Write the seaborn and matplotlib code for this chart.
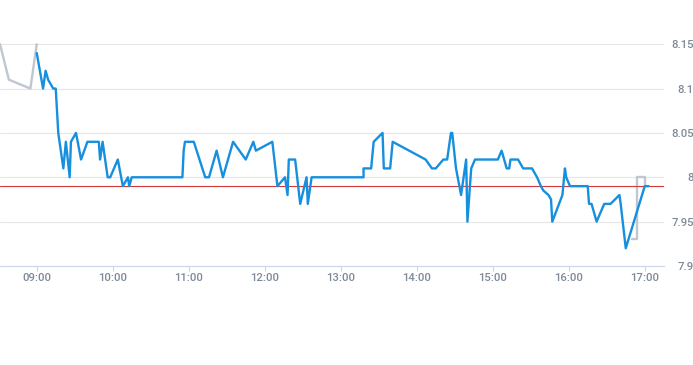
import matplotlib
matplotlib.use("Agg")
import matplotlib.pyplot as plt
import seaborn as sns
import pandas as pd

# ---- data ----
blue_times = ["09:00", "09:05", "09:07", "09:09", "09:13", "09:15", "09:17", "09:21", "09:23", "09:26",
              "09:27", "09:31", "09:35", "09:40", "09:49", "09:50", "09:52", "09:56", "09:58", "10:04",
              "10:08", "10:12", "10:13", "10:15", "10:55", "10:56", "10:57", "11:04", "11:13", "11:16",
              "11:22", "11:27", "11:35", "11:45", "11:51", "11:53", "12:06", "12:10", "12:16", "12:18",
              "12:19", "12:24", "12:28", "12:33", "12:34", "12:37", "13:18", "13:18", "13:24", "13:26",
              "13:33", "13:34", "13:39", "13:41", "14:07", "14:12", "14:15", "14:21", "14:24", "14:27",
              "14:28", "14:31", "14:35", "14:39", "14:40", "14:43", "14:46", "15:04", "15:07", "15:09",
              "15:11", "15:13", "15:14", "15:20", "15:24", "15:31", "15:35", "15:38", "15:40", "15:44",
              "15:46", "15:47", "15:55", "15:57", "15:58", "16:01", "16:15", "16:16", "16:18", "16:22",
              "16:28", "16:33", "16:40", "16:41", "16:45", "17:00", "17:03"]
blue_prices = [8.14, 8.10, 8.12, 8.11, 8.10, 8.10, 8.05, 8.01, 8.04, 8.00,
               8.04, 8.05, 8.02, 8.04, 8.04, 8.02, 8.04, 8.00, 8.00, 8.02,
               7.99, 8.00, 7.99, 8.00, 8.00, 8.03, 8.04, 8.04, 8.00, 8.00,
               8.03, 8.00, 8.04, 8.02, 8.04, 8.03, 8.04, 7.99, 8.00, 7.98,
               8.02, 8.02, 7.97, 8.00, 7.97, 8.00, 8.00, 8.01, 8.01, 8.04,
               8.05, 8.01, 8.01, 8.04, 8.02, 8.01, 8.01, 8.02, 8.02, 8.05,
               8.05, 8.01, 7.98, 8.02, 7.95, 8.01, 8.02, 8.02, 8.03, 8.02,
               8.01, 8.01, 8.02, 8.02, 8.01, 8.01, 8.00, 7.99, 7.985, 7.98,
               7.975, 7.95, 7.98, 8.01, 8.00, 7.99, 7.99, 7.97, 7.97, 7.95,
               7.97, 7.97, 7.98, 7.97, 7.92, 7.99, 7.99]

pre_times = ["08:31", "08:38", "08:55", "09:00"]
pre_prices = [8.15, 8.11, 8.10, 8.15]

post_times = ["16:50", "16:54", "16:54", "17:00", "17:00"]
post_prices = [7.93, 7.93, 8.00, 8.00, 7.99]

ref_price = 7.99

x_tick_labels = ["09:00", "10:00", "11:00", "12:00", "13:00", "14:00", "15:00", "16:00", "17:00"]
y_ticks = [7.9, 7.95, 8.0, 8.05, 8.1, 8.15]
y_tick_labels = ["7.9", "7.95", "8", "8.05", "8.1", "8.15"]


def to_min(s):
    h, m = s.split(":")
    return (int(h) - 9) * 60 + int(m)


blue_df = pd.DataFrame({"t": [to_min(s) for s in blue_times], "price": blue_prices, "seg": "day"})
pre_df = pd.DataFrame({"t": [to_min(s) for s in pre_times], "price": pre_prices, "seg": "pre"})
post_df = pd.DataFrame({"t": [to_min(s) for s in post_times], "price": post_prices, "seg": "post"})

sns.set_style("white")
plt.rcParams["font.family"] = ["Roboto", "Liberation Sans", "DejaVu Sans"]

fig = plt.figure(figsize=(6.93, 3.65), dpi=100)
ax = fig.add_axes([0.0, (365 - 266) / 365, 664 / 693, (266 - 30) / 365])

grey = "#c0c7d1"
blue = "#168fde"

sns.lineplot(data=pre_df, x="t", y="price", ax=ax, color=grey, lw=1.7,
             estimator=None, sort=False, zorder=2)
sns.lineplot(data=post_df, x="t", y="price", ax=ax, color=grey, lw=1.7,
             estimator=None, sort=False, zorder=2)
sns.lineplot(data=blue_df, x="t", y="price", ax=ax, color=blue, lw=1.7,
             estimator=None, sort=False, zorder=3)

ax.axhline(ref_price, color="#d4373a", lw=0.8, zorder=2.5)

ax.set_xlim(-29, -29 + 664 / 1.2667)
ax.set_ylim(7.9, 8.166)

ax.set_xticks([to_min(s) for s in x_tick_labels])
ax.set_xticklabels(x_tick_labels)
ax.set_yticks(y_ticks)
ax.set_yticklabels(y_tick_labels)

ax.yaxis.tick_right()
ax.grid(axis="y", color="#e6e6e6", lw=0.8, zorder=0)
ax.grid(axis="x", visible=False)

for side in ["top", "left", "right"]:
    ax.spines[side].set_visible(False)
ax.spines["bottom"].set_color("#ccd6eb")
ax.spines["bottom"].set_linewidth(0.8)

label_color = "#7f8a98"
ax.tick_params(axis="x", direction="out", length=3.5, width=0.8, color="#ccd6eb",
               labelsize=8.2, labelcolor=label_color, pad=1.5, bottom=True)
ax.tick_params(axis="y", length=0, labelsize=8.2, labelcolor=label_color, pad=21.5, right=True)
for lbl in ax.get_yticklabels():
    lbl.set_horizontalalignment("right")
for lbl in ax.get_xticklabels() + ax.get_yticklabels():
    lbl.set_fontweight("medium")

ax.set_xlabel("")
ax.set_ylabel("")
ax.set_facecolor("white")
fig.patch.set_facecolor("white")

fig.savefig("out.png", dpi=100, facecolor="white")
